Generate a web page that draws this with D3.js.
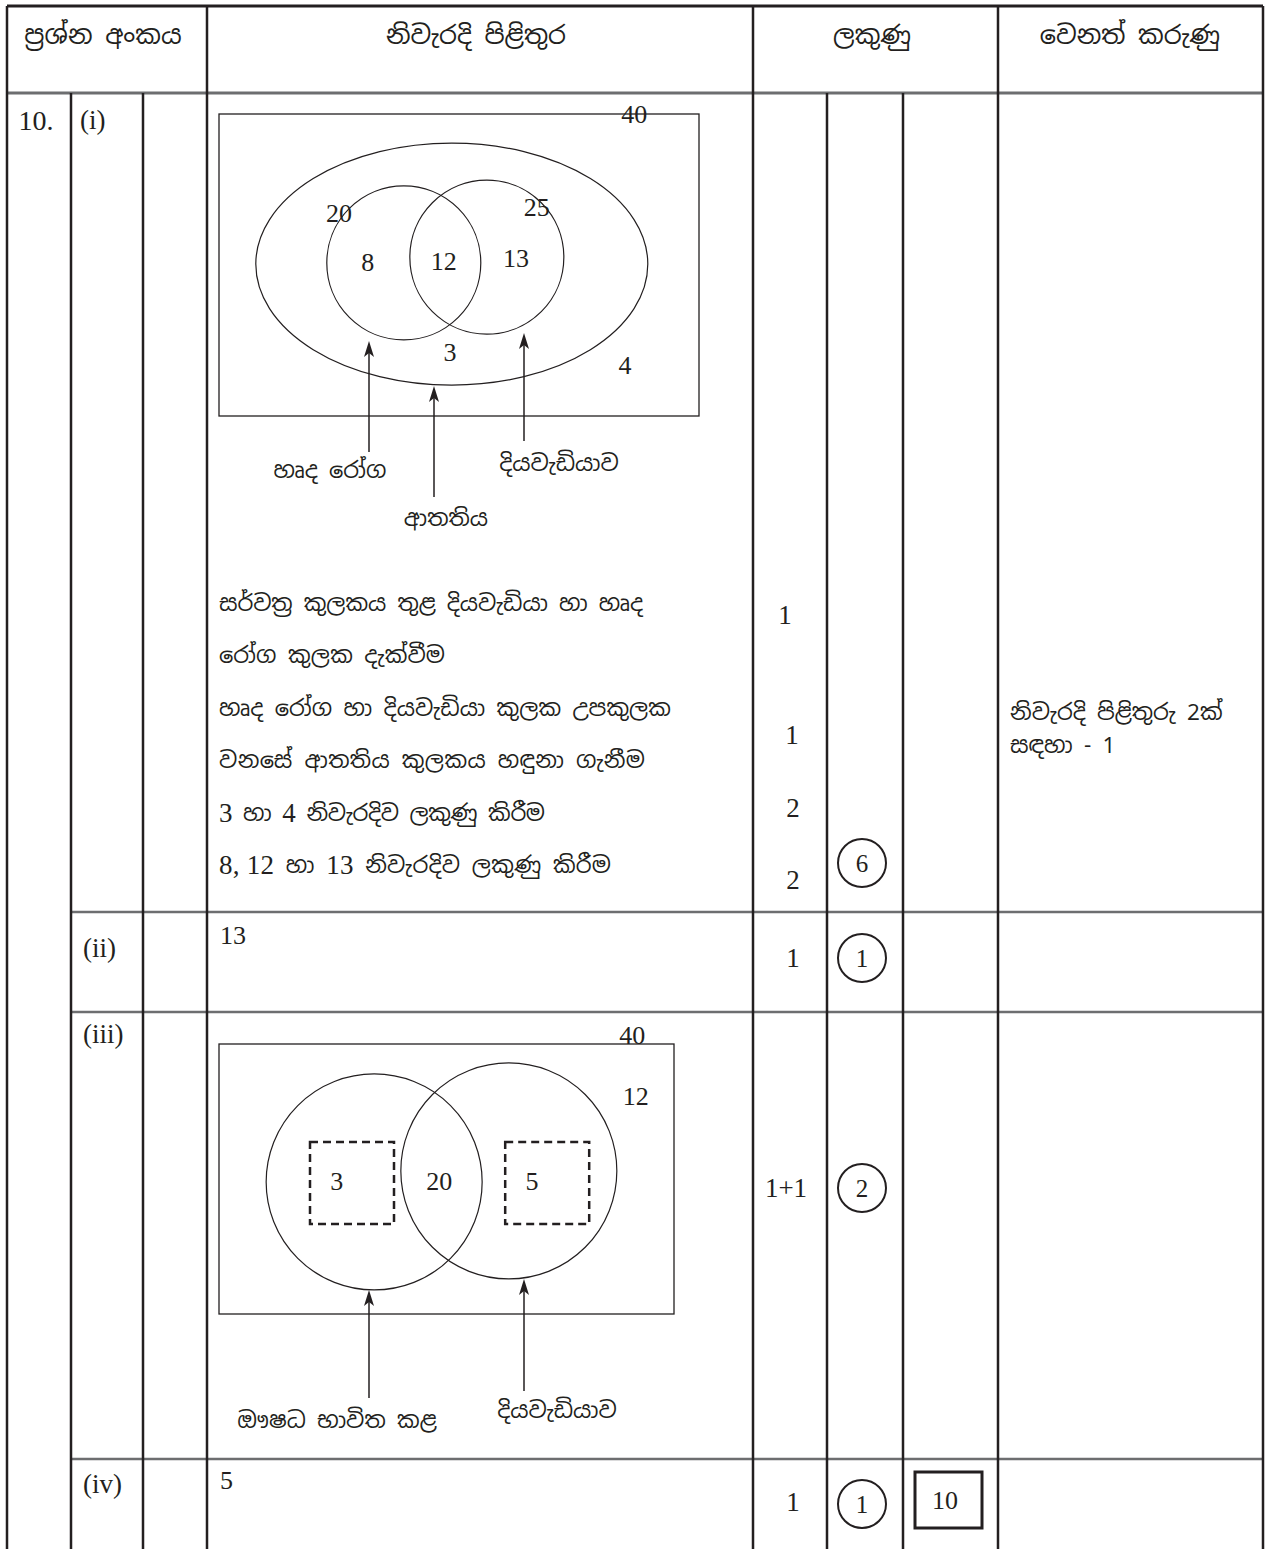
<!DOCTYPE html>
<html><head><meta charset="utf-8">
<script src="https://cdn.jsdelivr.net/npm/d3@7"></script>
<style>
html,body{margin:0;padding:0;background:#fff;}
svg{display:block;}
.si{font-family:"Noto Sans Sinhala","Noto Serif Sinhala","Iskoola Pota","Lohit Sinhala","Noto Sans",sans-serif;fill:#231f20;}
.nm{font-family:"Liberation Serif","Times New Roman",serif;fill:#231f20;}
</style></head>
<body>
<div id="chart"></div>
<script>
// ---------- data ----------
const headerLabels = ["ප්‍රශ්න අංකය", "නිවැරදි පිළිතුර", "ලකුණු", "වෙනත් කරුණු"];
const questionNo = "10.";
const partLabels = ["(i)", "(ii)", "(iii)", "(iv)"];
const shortAnswers = ["", "13", "", "5"];
const venn1Numbers = ["40", "20", "25", "8", "12", "13", "3", "4"];
const venn1SetNames = ["හෘද රෝග", "ආතතිය", "දියවැඩියාව"];
const criteriaLines = [
  "සර්වත්‍ර කුලකය තුළ දියවැඩියා හා හෘද",
  "රෝග කුලක දැක්වීම",
  "හෘද රෝග හා දියවැඩියා කුලක උපකුලක",
  "වනසේ ආතතිය කුලකය හඳුනා ගැනීම",
  "3 හා 4 නිවැරදිව ලකුණු කිරීම",
  "8, 12  හා 13 නිවැරදිව ලකුණු කිරීම"
];
const criteriaMarks = ["1", "1", "2", "2"];
const venn2Numbers = ["40", "12", "3", "20", "5"];
const venn2SetNames = ["ඖෂධ භාවිත කළ", "දියවැඩියාව"];
const partMarks = ["", "1", "1+1", "1"];
const partTotals = ["6", "1", "2", "1"];
const questionTotal = "10";
const remarkLines = ["නිවැරදි පිළිතුරු 2ක්", "සඳහා - 1"];

// ---------- layout ----------
const W = 1266, H = 1549;
const colX = [7, 71, 143, 207, 753, 827, 903, 998, 1263];
const rowY = [6, 93, 912, 1012, 1459, 1549];
const svg = d3.select("#chart").append("svg").attr("width", W).attr("height", H);

const numFont = 26;
const siFont = 22.5;
function num(g, x, y, t, anchor, size) {
  return g.append("text").attr("class", "nm").attr("x", x).attr("y", y)
    .attr("text-anchor", anchor || "middle").attr("dominant-baseline", "central")
    .attr("font-size", size || numFont).text(t);
}
function si(g, x, y, t, anchor, size) {
  return g.append("text").attr("class", "si").attr("x", x).attr("y", y)
    .attr("text-anchor", anchor || "middle").attr("dominant-baseline", "central")
    .attr("font-size", size || siFont).text(t);
}

// ---------- grid ----------
const grid = svg.append("g");
const dark = "#231f20", grey = "#6d6e70";
grid.append("line").attr("x1", colX[0]).attr("x2", colX[8]).attr("y1", rowY[0]).attr("y2", rowY[0])
  .attr("stroke", dark).attr("stroke-width", 3);
grid.append("line").attr("x1", colX[0]).attr("x2", colX[8]).attr("y1", rowY[1]).attr("y2", rowY[1])
  .attr("stroke", grey).attr("stroke-width", 3);
[rowY[2], rowY[3], rowY[4]].forEach(y => {
  grid.append("line").attr("x1", colX[1]).attr("x2", colX[8]).attr("y1", y).attr("y2", y)
    .attr("stroke", grey).attr("stroke-width", 2.5);
});
[0, 3, 4, 7, 8].forEach(i => {
  grid.append("line").attr("x1", colX[i]).attr("x2", colX[i]).attr("y1", rowY[0]).attr("y2", H)
    .attr("stroke", dark).attr("stroke-width", 2.5);
});
[1, 2, 5, 6].forEach(i => {
  grid.append("line").attr("x1", colX[i]).attr("x2", colX[i]).attr("y1", rowY[1]).attr("y2", H)
    .attr("stroke", dark).attr("stroke-width", 2.5);
});

// ---------- header ----------
const headerCenters = [103, 476, 872, 1130];
headerLabels.forEach((t, i) => si(svg, headerCenters[i], 34, t, "middle", 25.5));

// ---------- part labels ----------
num(svg, 36, 120, questionNo, "middle", 28);
const partY = [120, 948, 1034, 1484];
partLabels.forEach((t, i) => num(svg, i === 0 ? 80 : 83, partY[i], t, "start", 27));
const ansY = [0, 935, 0, 1480];
shortAnswers.forEach((t, i) => { if (t) num(svg, 220, ansY[i], t, "start", 26); });

// ---------- marks ----------
const criteriaMarkPos = [[785, 615], [792, 735], [793, 808], [793, 880]];
criteriaMarks.forEach((t, i) => num(svg, criteriaMarkPos[i][0], criteriaMarkPos[i][1], t, "middle", 27));
const partMarkY = [0, 958, 1188, 1502];
partMarks.forEach((t, i) => { if (t) num(svg, i === 2 ? 786 : 793, partMarkY[i], t, "middle", 27); });
const totalY = [863, 958, 1188, 1504];
partTotals.forEach((t, i) => {
  svg.append("circle").attr("cx", 862).attr("cy", totalY[i]).attr("r", 24)
    .attr("fill", "none").attr("stroke", dark).attr("stroke-width", 2);
  num(svg, 862, totalY[i], t, "middle", 25);
});
svg.append("rect").attr("x", 915).attr("y", 1472).attr("width", 67).attr("height", 56)
  .attr("fill", "none").attr("stroke", dark).attr("stroke-width", 3);
num(svg, 945, 1500, questionTotal, "middle", 26);

remarkLines.forEach((t, i) => si(svg, 1010, 712 + i * 33, t, "start", 22.5));

// ---------- arrowhead helper ----------
function arrow(g, x, y1, y2) {
  g.append("line").attr("x1", x).attr("x2", x).attr("y1", y1).attr("y2", y2 + 8)
    .attr("stroke", dark).attr("stroke-width", 1.5);
  g.append("path").attr("d", `M${x},${y2} L${x - 5},${y2 + 16} L${x},${y2 + 12} L${x + 5},${y2 + 16} Z`)
    .attr("fill", dark);
}

// ---------- Venn 1 ----------
const v1 = svg.append("g");
const v1x = d3.scaleLinear().domain([0, 100]).range([219, 699]);
const v1y = d3.scaleLinear().domain([0, 100]).range([114, 416]);
v1.append("rect").attr("x", v1x(0)).attr("y", v1y(0)).attr("width", v1x(100) - v1x(0)).attr("height", v1y(100) - v1y(0))
  .attr("fill", "none").attr("stroke", dark).attr("stroke-width", 1.3);
v1.append("ellipse").attr("cx", v1x(48.5)).attr("cy", v1y(49.7)).attr("rx", 196).attr("ry", 121)
  .attr("fill", "none").attr("stroke", dark).attr("stroke-width", 1.2);
v1.append("circle").attr("cx", v1x(38.5)).attr("cy", v1y(49.3)).attr("r", 77)
  .attr("fill", "none").attr("stroke", dark).attr("stroke-width", 1.2);
v1.append("circle").attr("cx", v1x(55.8)).attr("cy", v1y(47.4)).attr("r", 77)
  .attr("fill", "none").attr("stroke", dark).attr("stroke-width", 1.2);
const v1NumPos = [[86.5, 0], [25, 32.8], [66.2, 31.1], [31, 49.3], [46.8, 49], [61.9, 47.7], [48.1, 79], [84.6, 83.4]];
venn1Numbers.forEach((t, i) => num(v1, v1x(v1NumPos[i][0]), v1y(v1NumPos[i][1]), t));
arrow(v1, 369, 452, 341);
arrow(v1, 434, 497, 386);
arrow(v1, 524, 441, 333);
const v1NamePos = [[330, 470], [446, 518], [559, 463]];
venn1SetNames.forEach((t, i) => si(v1, v1NamePos[i][0], v1NamePos[i][1], t, "middle"));

// criteria text
const criteriaWidths = [424, 226, 452, 426, 326, 392];
criteriaLines.forEach((t, i) => {
  const y = 603 + i * 52.4;
  const txt = svg.append("text").attr("class", "si").attr("x", 219).attr("y", y)
    .attr("dominant-baseline", "central").attr("font-size", siFont);
  t.split(/(\d+(?:, \d+)?)/).forEach(part => {
    if (!part) return;
    if (/^\d/.test(part)) txt.append("tspan").attr("class", "nm").attr("font-size", 27).text(part);
    else txt.append("tspan").text(part);
  });
  txt.attr("textLength", criteriaWidths[i]).attr("lengthAdjust", "spacing");
});

// ---------- Venn 2 ----------
const v2 = svg.append("g");
const v2x = d3.scaleLinear().domain([0, 100]).range([219, 674]);
const v2y = d3.scaleLinear().domain([0, 100]).range([1044, 1314]);
v2.append("rect").attr("x", v2x(0)).attr("y", v2y(0)).attr("width", v2x(100) - v2x(0)).attr("height", v2y(100) - v2y(0))
  .attr("fill", "none").attr("stroke", dark).attr("stroke-width", 1.3);
v2.append("circle").attr("cx", v2x(34.1)).attr("cy", v2y(51.1)).attr("r", 108)
  .attr("fill", "none").attr("stroke", dark).attr("stroke-width", 1.2);
v2.append("circle").attr("cx", v2x(63.7)).attr("cy", v2y(47)).attr("r", 108)
  .attr("fill", "none").attr("stroke", dark).attr("stroke-width", 1.2);
[[20, 36.3], [62.9, 36.3]].forEach(p => {
  v2.append("rect").attr("x", v2x(p[0])).attr("y", v2y(p[1])).attr("width", 84).attr("height", 82)
    .attr("fill", "none").attr("stroke", dark).attr("stroke-width", 2.5).attr("stroke-dasharray", "8,5");
});
const v2NumPos = [[90.8, -3.3], [91.6, 19.6], [25.9, 51.1], [48.4, 51.1], [68.8, 51.1]];
venn2Numbers.forEach((t, i) => num(v2, v2x(v2NumPos[i][0]), v2y(v2NumPos[i][1]), t));
arrow(v2, 369, 1398, 1290);
arrow(v2, 524, 1391, 1279);
const v2NamePos = [[337, 1420], [557, 1410]];
venn2SetNames.forEach((t, i) => si(v2, v2NamePos[i][0], v2NamePos[i][1], t, "middle"));
</script>
</body></html>
